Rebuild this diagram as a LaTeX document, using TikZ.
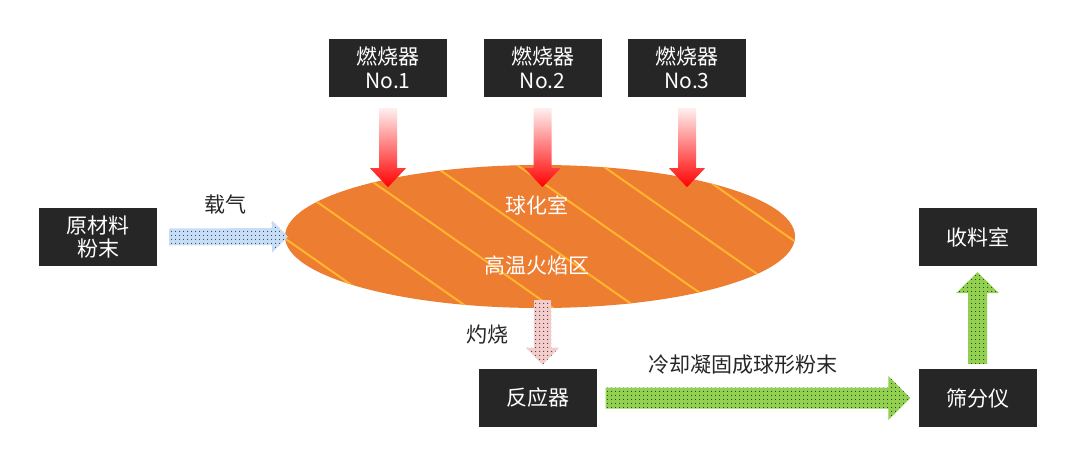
\documentclass[tikz,border=0pt]{standalone}
\usepackage{fontspec}
\setmainfont{Noto Sans CJK SC}
\usepackage{tikz}
\usetikzlibrary{calc,patterns.meta}
\definecolor{boxbg}{HTML}{262626}
\definecolor{ink}{HTML}{262626}
\definecolor{flame}{HTML}{ED7D31}
\definecolor{stripe}{HTML}{FFB62E}
\definecolor{carrier}{HTML}{C5DDF6}
\definecolor{burn}{HTML}{F4CCCC}
\definecolor{cool}{HTML}{92D050}
\tikzset{
  box/.style={fill=boxbg, text=white, minimum width=118pt, minimum height=58pt,
    inner sep=0pt, align=center, font=\fontsize{21}{23.5}\selectfont},
  lab/.style={text=ink, inner sep=0pt, font=\fontsize{21}{24}\selectfont},
  inlab/.style={text=white, inner sep=0pt, font=\fontsize{21}{24}\selectfont},
  stripeline/.style={draw=stripe, line width=2pt},
  heat/.style={top color=red!6, bottom color=red},
  dotfill/.style={preaction={fill=#1}, pattern={Dots[distance=4pt,radius=0.6pt]},
    pattern color=black}
}
% block arrow: style, from, to, shaft half width, head half width, head length
\newcommand{\blockarrow}[6]{%
  \coordinate (hb) at ($(#3)!#6!(#2)$);
  \path[#1] ($(#2)!#4!90:(#3)$) -- ($(hb)!#4!90:(#3)$) -- ($(hb)!#5!90:(#3)$)
    -- (#3) -- ($(hb)!#5!-90:(#3)$) -- ($(hb)!#4!-90:(#3)$)
    -- ($(#2)!#4!-90:(#3)$) -- cycle;}

\begin{document}
\begin{tikzpicture}[x=1pt,y=-1pt]
  \useasboundingbox (0,0) rectangle (1084,471);

  % burners
  \node[box] (b1) at (388,68) {燃烧器\\No.1};
  \node[box] (b2) at (542.5,68) {燃烧器\\No.2};
  \node[box] (b3) at (687,68) {燃烧器\\No.3};

  % spheroidizing chamber
  \coordinate (chamber) at (540,236.5);
  \coordinate (chamberW) at (285,236.5);
  \fill[flame] (chamber) ellipse [x radius=255, y radius=71.5];
  \begin{scope}
    \clip (chamber) ellipse [x radius=255, y radius=71.5];
    \foreach \c in {39,-20,...,-315}
      \draw[stripeline] (280,196+\c) -- (800,560+\c);
  \end{scope}
  \node[inlab] (sphere) at (537,205) {球化室};
  \node[inlab] (zone) at (537,265) {高温火焰区};

  \foreach \b in {b1,b2,b3}{
    \coordinate (\b s) at ($(\b.south)+(0,11)$);
    \coordinate (\b t) at ($(\b.south)+(0,90)$);
    \blockarrow{heat}{\b s}{\b t}{9pt}{18pt}{19pt}
  }

  \node[box] (raw) at (98,237) {原材料\\粉末};
  \node[box] (reactor) at (537.5,398) {反应器};
  \node[box] (sieve) at (977.5,398) {筛分仪};
  \node[box] (collect) at (977.5,237) {收料室};

  % carrier gas in
  \coordinate (gasS) at ($(raw.east)+(12,0)$);
  \coordinate (gasT) at ($(chamberW)+(3,0)$);
  \blockarrow{dotfill=carrier}{gasS}{gasT}{8.5pt}{16pt}{16pt}
  \node[lab] (gas) at (225.5,205) {载气};

  % calcination down to reactor
  \coordinate (burnS) at (542.5,300);
  \coordinate (burnT) at ($(reactor.north)+(5,-4)$);
  \blockarrow{dotfill=burn}{burnS}{burnT}{8.5pt}{16.5pt}{17pt}
  \node[lab] (calc) at (487.5,335) {灼烧};

  % cooling to sieve, then up to collector
  \coordinate (coolS) at ($(reactor.east)+(9,0)$);
  \coordinate (coolT) at ($(sieve.west)+(-8,0)$);
  \blockarrow{dotfill=cool}{coolS}{coolT}{10.5pt}{22pt}{22pt}
  \node[lab] (cooling) at (742.5,365) {冷却凝固成球形粉末};

  \coordinate (upS) at ($(sieve.north)+(0,-5)$);
  \coordinate (upT) at ($(collect.south)+(0,6)$);
  \blockarrow{dotfill=cool}{upS}{upT}{9.5pt}{21.5pt}{21pt}
\end{tikzpicture}
\end{document}
